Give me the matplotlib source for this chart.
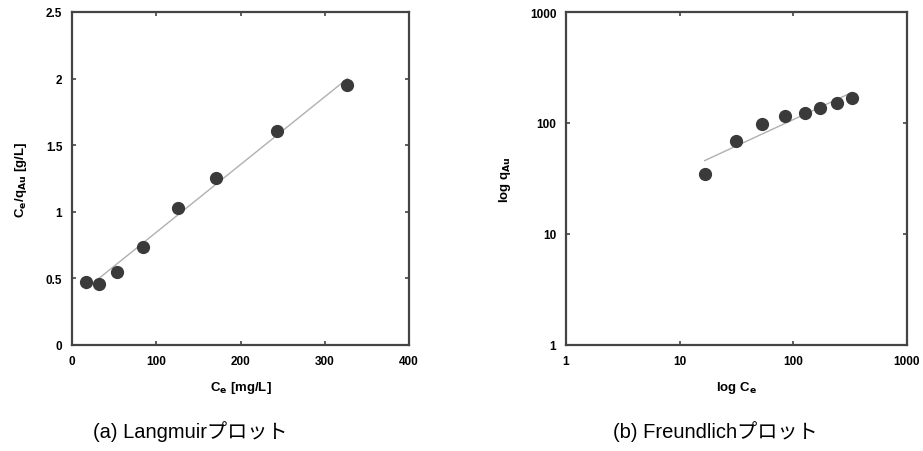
import numpy as np
import matplotlib
matplotlib.use("Agg")
import matplotlib.pyplot as plt
from matplotlib.ticker import FixedLocator, NullLocator, FuncFormatter

plt.rcParams['font.family'] = ['Liberation Sans', 'Noto Sans CJK JP', 'DejaVu Sans']

# equilibrium concentration Ce [mg/L] and adsorbed amount q_Au [mg/g]
ce = np.array([16.6, 31.5, 53, 84, 126, 171, 243, 327])
q_au = np.array([35, 69, 97, 115, 123, 136, 151, 168])
ce_over_q = np.array([0.475, 0.458, 0.546, 0.733, 1.026, 1.254, 1.607, 1.952])

lang_xticks = [0, 100, 200, 300, 400]
lang_yticks = [0, 0.5, 1, 1.5, 2, 2.5]
freund_ticks = [1, 10, 100, 1000]

captions = ["(a) Langmuirプロット", "(b) Freundlichプロット"]

frame_col = "#444444"
dot_col = "#3a3a3a"
fit_col = "#b0b0b0"

fig = plt.figure(figsize=(9.23, 4.52), dpi=100)
ax1 = fig.add_axes([72/923, 1-346/452, 337/923, 333/452])
ax2 = fig.add_axes([566/923, 1-346/452, 341/923, 333/452])


def style(ax):
    for s in ax.spines.values():
        s.set_linewidth(1.6)
        s.set_color(frame_col)
    ax.tick_params(direction="in", top=True, right=True, length=3, width=1.2,
                   color=frame_col, labelsize=8.5)
    ax.tick_params(axis="x", pad=7)
    ax.tick_params(axis="y", pad=7)
    for lab in ax.get_xticklabels() + ax.get_yticklabels():
        lab.set_fontweight("bold")


# Langmuir: Ce/q vs Ce with linear fit
k, b = np.polyfit(ce, ce_over_q, 1)
xf = np.array([ce.min(), ce.max()])
ax1.plot(xf, k*xf + b, color=fit_col, lw=1.0, zorder=1)
ax1.plot(ce, ce_over_q, "o", ms=8.5, color=dot_col, zorder=2)
ax1.set_xlim(0, 400)
ax1.set_ylim(0, 2.5)
ax1.set_xticks(lang_xticks)
ax1.set_yticks(lang_yticks)
ax1.yaxis.set_major_formatter(FuncFormatter(lambda v, p: f"{v:g}"))
ax1.set_xlabel("C$_\\mathbf{e}$ [mg/L]", fontsize=9.5, fontweight="bold", labelpad=9)
ax1.set_ylabel("C$_\\mathbf{e}$/q$_\\mathbf{Au}$ [g/L]", fontsize=9.5, fontweight="bold", labelpad=12)
style(ax1)

# Freundlich: log q vs log Ce with power fit
n, c = np.polyfit(np.log10(ce), np.log10(q_au), 1)
ax2.plot(xf, 10**c * xf**n, color=fit_col, lw=1.0, zorder=1)
ax2.plot(ce, q_au, "o", ms=8.5, color=dot_col, zorder=2)
ax2.set_xscale("log")
ax2.set_yscale("log")
ax2.set_xlim(1, 1000)
ax2.set_ylim(1, 1000)
ax2.xaxis.set_major_locator(FixedLocator(freund_ticks))
ax2.yaxis.set_major_locator(FixedLocator(freund_ticks))
ax2.xaxis.set_minor_locator(NullLocator())
ax2.yaxis.set_minor_locator(NullLocator())
fmt = FuncFormatter(lambda v, p: f"{v:g}")
ax2.xaxis.set_major_formatter(fmt)
ax2.yaxis.set_major_formatter(fmt)
ax2.set_xlabel("log C$_\\mathbf{e}$", fontsize=9.5, fontweight="bold", labelpad=9)
ax2.set_ylabel("log q$_\\mathbf{Au}$", fontsize=9.5, fontweight="bold", labelpad=12)
style(ax2)

fig.text(190/923, 1-432/452, captions[0], ha="center", va="center", fontsize=14.5,
         family=['Liberation Sans', 'Noto Sans CJK JP'])
fig.text(715/923, 1-432/452, captions[1], ha="center", va="center", fontsize=14.5,
         family=['Liberation Sans', 'Noto Sans CJK JP'])

fig.savefig("out.png", dpi=100)
